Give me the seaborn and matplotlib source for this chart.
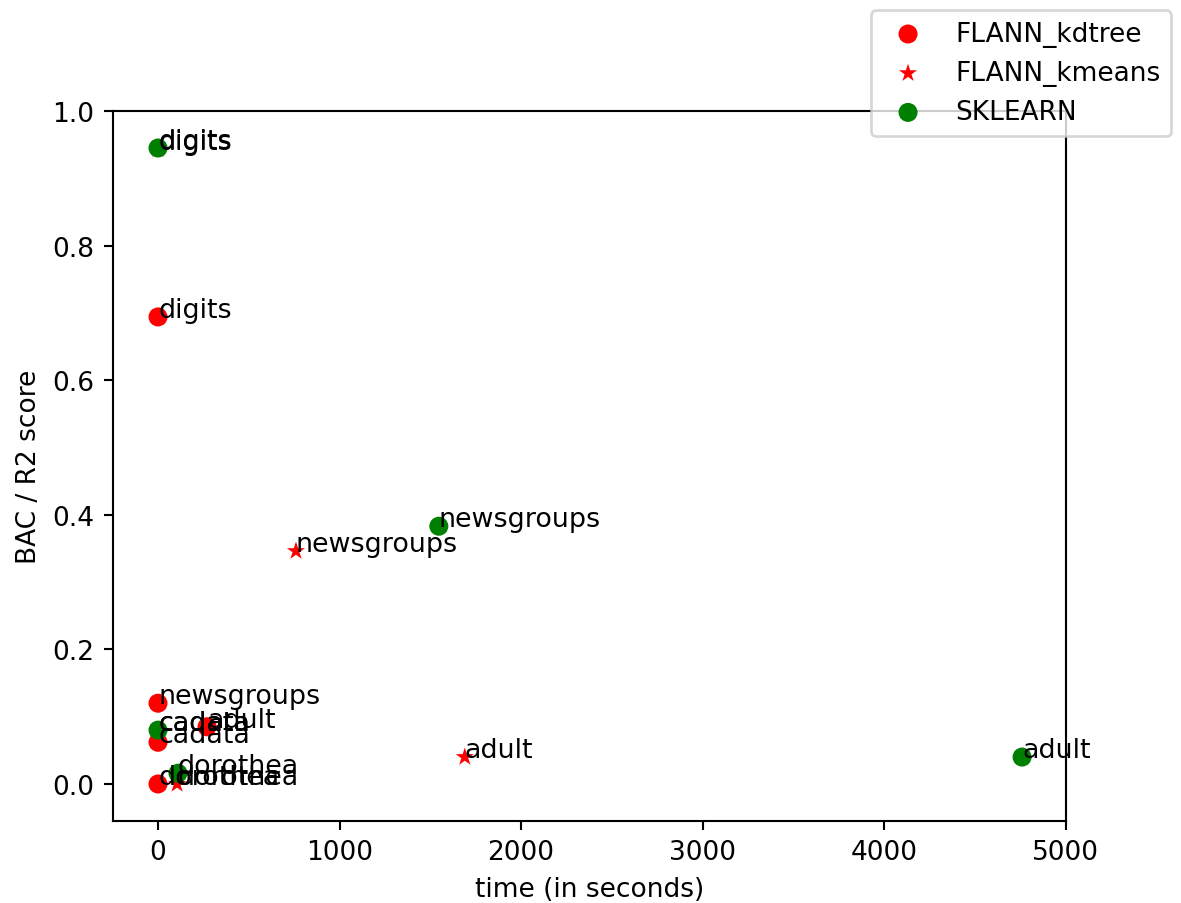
import matplotlib
matplotlib.use("Agg")
import matplotlib.pyplot as plt
import seaborn as sns
import pandas as pd

datasets = ["adult", "cadata", "digits", "dorothea", "newsgroups"]

kdtree_time = [270, 0, 0, 0, 0]
kdtree_score = [0.085, 0.062, 0.694, 0.0, 0.120]

kmeans_time = [1690, 0, 0, 105, 760]
kmeans_score = [0.040, 0.080, 0.943, 0.0, 0.346]

sklearn_time = [4760, 0, 0, 110, 1547]
sklearn_score = [0.040, 0.080, 0.945, 0.016, 0.383]

series = [
    ("FLANN_kdtree", kdtree_time, kdtree_score, "red", "o"),
    ("FLANN_kmeans", kmeans_time, kmeans_score, "red", "*"),
    ("SKLEARN", sklearn_time, sklearn_score, "green", "o"),
]

dpi = 190
fig = plt.figure(figsize=(1181 / dpi, 904 / dpi), dpi=dpi)
ax = fig.add_axes([113 / 1181, 1 - 822 / 904, (1066 - 113) / 1181, (822 - 112) / 904])

for name, t, s, color, marker in series:
    df = pd.DataFrame({"time": t, "score": s, "dataset": datasets})
    sns.scatterplot(data=df, x="time", y="score", color=color, marker=marker,
                    s=52, edgecolor="none", linewidth=0, label=name, ax=ax)
    for _, row in df.iterrows():
        ax.annotate(row["dataset"], (row["time"], row["score"]), fontsize=10.2)

ax.set_xlim(-248, 5002)
ax.set_ylim(-0.055, 1.0)
ax.set_xlabel("time (in seconds)")
ax.set_ylabel("BAC / R2 score")
ax.legend(loc="upper right", bbox_to_anchor=(1.003, 1.002),
          bbox_transform=fig.transFigure)

fig.savefig("out.png", dpi=dpi)
